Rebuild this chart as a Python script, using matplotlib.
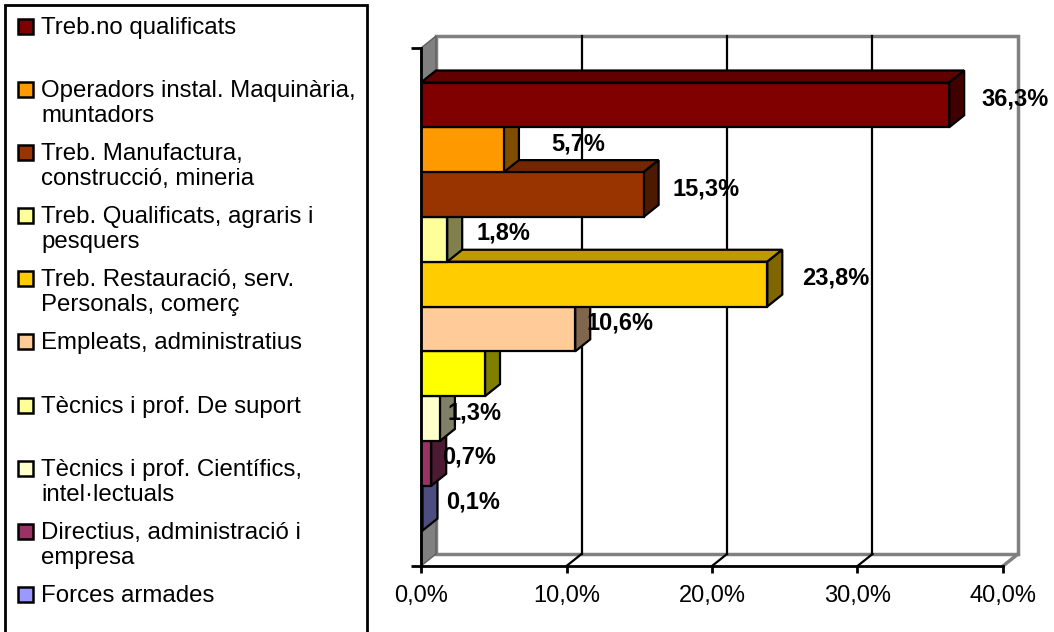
import numpy as np
import matplotlib.pyplot as plt
from matplotlib.patches import Polygon, Rectangle
from matplotlib.colors import to_rgb

plt.rcParams['font.family'] = ['Liberation Sans', 'DejaVu Sans']

# dades (de baix a dalt)
categories = ['Forces armades', 'Directius, administració i\nempresa',
              'Tècnics i prof. Científics,\nintel·lectuals', 'Tècnics i prof. De suport',
              'Empleats, administratius', 'Treb. Restauració, serv.\nPersonals, comerç',
              'Treb. Qualificats, agraris i\npesquers', 'Treb. Manufactura,\nconstrucció, mineria',
              'Operadors instal. Maquinària,\nmuntadors', 'Treb.no qualificats']
values = [0.1, 0.7, 1.3, 4.4, 10.6, 23.8, 1.8, 15.3, 5.7, 36.3]
value_labels = ['0,1%', '0,7%', '1,3%', '', '10,6%', '23,8%', '1,8%', '15,3%', '5,7%', '36,3%']
bar_colors = ['#9999FF', '#993366', '#FFFFCC', '#FFFF00', '#FFCC99',
              '#FFCC00', '#FFFF99', '#993300', '#FF9900', '#800000']
legend_colors = ['#9999FF', '#993366', '#FFFFCC', '#FFFF99', '#FFCC99',
                 '#FFCC00', '#FFFF99', '#993300', '#FF9900', '#800000']
xticks = [0, 10, 20, 30, 40]
xtick_labels = ['0,0%', '10,0%', '20,0%', '30,0%', '40,0%']

# posicio de les etiquetes (px a la dreta del final de la barra)
label_dx = [51, 38, 35, 0, 45, 68, 56, 62, 74, 66]

W, H = 1054, 632
fig = plt.figure(figsize=(W / 100, H / 100), dpi=100)
ax = fig.add_axes([421 / W, 1 - 566 / H, 582 / W, 518 / H])
ax.patch.set_visible(False)
ylo, yhi = -1.29, 10.27
ax.set_xlim(0, 40)
ax.set_ylim(ylo, yhi)

# profunditat 3D en unitats de dades
dx = 15 / (582 / 40)
dy = 12 / (518 / (yhi - ylo))

def shade(c, f):
    return tuple(v * f for v in to_rgb(c))

# parets
ax.add_patch(Polygon([(dx, ylo + dy), (40 + dx, ylo + dy), (40 + dx, yhi + dy), (dx, yhi + dy)],
                     closed=True, facecolor='white', edgecolor='#808080', lw=2.5,
                     clip_on=False, zorder=0))
ax.add_patch(Polygon([(0, ylo), (dx, ylo + dy), (dx, yhi + dy), (0, yhi)],
                     closed=True, facecolor='#808080', edgecolor='#606060', lw=1,
                     clip_on=False, zorder=1))
for x in xticks[1:-1]:
    ax.plot([x + dx, x + dx], [ylo + dy, yhi + dy], color='black', lw=1.6,
            clip_on=False, zorder=1)
    ax.plot([x, x + dx], [ylo, ylo + dy], color='black', lw=1.6, clip_on=False, zorder=1)
ax.plot([40, 40 + dx], [ylo, ylo + dy], color='#808080', lw=2.5, clip_on=False, zorder=1)

# barres
for i, (v, c) in enumerate(zip(values, bar_colors)):
    z = 3 + i * 3
    top = [(0, i + 0.5), (v, i + 0.5), (v + dx, i + 0.5 + dy), (dx, i + 0.5 + dy)]
    side = [(v, i - 0.5), (v + dx, i - 0.5 + dy), (v + dx, i + 0.5 + dy), (v, i + 0.5)]
    ax.add_patch(Polygon(top, closed=True, facecolor=shade(c, 0.75), edgecolor='black',
                         lw=1.6, clip_on=False, zorder=z, joinstyle='miter'))
    ax.add_patch(Polygon(side, closed=True, facecolor=shade(c, 0.5), edgecolor='black',
                         lw=1.6, clip_on=False, zorder=z))
    ax.barh(i, v, height=1, color=c, edgecolor='black', lw=1.6, zorder=z + 1)

for i, (v, t) in enumerate(zip(values, value_labels)):
    if t:
        ax.annotate(t, xy=(v, i + dy / 2), xytext=(label_dx[i] * 0.72, 0),
                    textcoords='offset points', ha='center', va='center',
                    fontsize=17, fontweight='bold', zorder=50, annotation_clip=False)

for s in ['top', 'right']:
    ax.spines[s].set_visible(False)
for s in ['left', 'bottom']:
    ax.spines[s].set_linewidth(2)
    ax.spines[s].set_zorder(60)
ax.set_xticks(xticks)
ax.set_xticklabels(xtick_labels, fontsize=17)
ax.set_yticks([ylo, yhi])
ax.set_yticklabels([])
ax.tick_params(axis='x', direction='out', length=5, width=2, pad=9)
ax.tick_params(axis='y', direction='out', length=7, width=2)

# llegenda manual
def fx(px):
    return px / W

def fy(py):
    return 1 - py / H

fig.add_artist(Rectangle((fx(5), fy(640)), fx(367) - fx(5), fy(5) - fy(640),
                         transform=fig.transFigure, facecolor='white', edgecolor='black',
                         lw=2, zorder=0))
for j, idx in enumerate(range(len(categories) - 1, -1, -1)):
    base = 34 + j * 63.1
    fig.add_artist(Rectangle((fx(18), fy(base)), fx(15), 15 / H,
                             transform=fig.transFigure, facecolor=legend_colors[idx],
                             edgecolor='black', lw=1.8, zorder=2))
    for k, line in enumerate(categories[idx].split('\n')):
        fig.text(fx(41), fy(base + k * 25), line, fontsize=17.3, ha='left', va='baseline')

fig.savefig('out.png', dpi=100)
